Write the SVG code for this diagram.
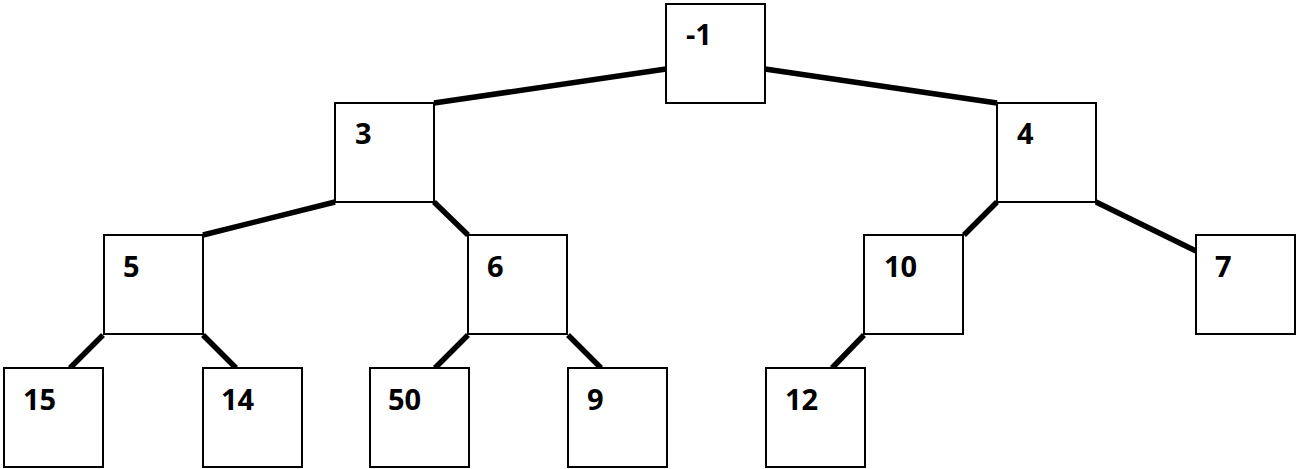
<svg xmlns="http://www.w3.org/2000/svg" width="1298" height="469" viewBox="0 0 1298 469">
<style>
rect{fill:#fff;stroke:#000;stroke-width:2}
text{font-family:"Open Sans","Liberation Sans",sans-serif;font-weight:bold;font-size:29px;fill:#000}
.e line{stroke:#000;stroke-width:5.5;stroke-linecap:butt}
</style>
<rect x="0" y="0" width="1298" height="469" style="fill:#fff;stroke:none"/>
<g class="e" id="edges">
<line x1="666" y1="69" x2="434" y2="103"/>
<line x1="765" y1="69" x2="997" y2="103"/>
<line x1="335" y1="202" x2="203" y2="235"/>
<line x1="434" y1="202" x2="468" y2="235"/>
<line x1="997" y1="202" x2="964" y2="235"/>
<line x1="1096" y1="202" x2="1196" y2="251"/>
<line x1="103" y1="335" x2="70" y2="368"/>
<line x1="203" y1="335" x2="236" y2="368"/>
<line x1="468" y1="335" x2="435" y2="368"/>
<line x1="568" y1="335" x2="601" y2="368"/>
<line x1="864" y1="335" x2="832" y2="368"/>
</g>
<g id="n-1"><rect x="666" y="4" width="99" height="99"/><text x="686" y="45">-1</text></g>
<g id="n3"><rect x="335" y="103" width="99" height="99"/><text x="355" y="144">3</text></g>
<g id="n4"><rect x="997" y="103" width="99" height="99"/><text x="1017" y="144">4</text></g>
<g id="n5"><rect x="104" y="235" width="99" height="99"/><text x="123" y="277">5</text></g>
<g id="n6"><rect x="468" y="235" width="99" height="99"/><text x="487" y="277">6</text></g>
<g id="n10"><rect x="864" y="235" width="99" height="99"/><text x="884" y="277">10</text></g>
<g id="n7"><rect x="1196" y="235" width="99" height="99"/><text x="1215" y="277">7</text></g>
<g id="n15"><rect x="4" y="368" width="99" height="99"/><text x="23" y="410">15</text></g>
<g id="n14"><rect x="203" y="368" width="99" height="99"/><text x="221" y="410">14</text></g>
<g id="n50"><rect x="370" y="368" width="99" height="99"/><text x="388" y="410">50</text></g>
<g id="n9"><rect x="568" y="368" width="99" height="99"/><text x="587" y="410">9</text></g>
<g id="n12"><rect x="766" y="368" width="99" height="99"/><text x="785" y="410">12</text></g>
</svg>
